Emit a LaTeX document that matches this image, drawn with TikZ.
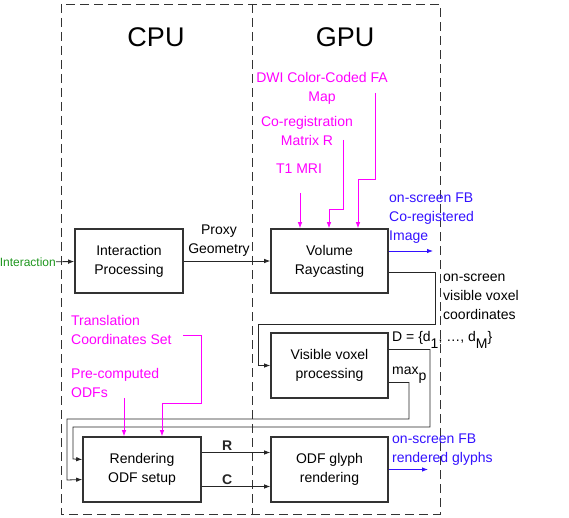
\documentclass[tikz,border=0pt]{standalone}
\usepackage{fontspec}
\setmainfont{Liberation Sans}
\usepackage{xcolor}
\usepackage{tikz}
\usetikzlibrary{arrows.meta}
\usetikzlibrary{calc}
\usetikzlibrary{positioning}

\definecolor{inmag}{RGB}{255,0,255}
\definecolor{outblue}{RGB}{51,17,255}
\definecolor{usrgreen}{RGB}{30,150,30}
\newcommand{\subtx}[1]{\raisebox{-0.45em}{#1}}

\begin{document}
\begin{tikzpicture}[x=1pt, y=-1pt,
    >={Latex[length=6pt,width=4.5pt]},
    every node/.style={font=\fontsize{14}{19}\selectfont},
    stage/.style={draw=black!80, line width=1.6pt, align=center, minimum width=117pt, minimum height=64pt, inner sep=2pt},
    note/.style={align=left, inner sep=0pt},
    lbl/.style={font=\fontsize{14}{19}\selectfont\bfseries, above, inner sep=1.5pt},
    feed/.style={->, inmag, line width=0.8pt},
    outp/.style={->, outblue, line width=0.8pt},
    conn/.style={->, black!85, line width=0.8pt},
    frame/.style={black!80, line width=0.8pt, dash pattern=on 9pt off 5pt}]
    \useasboundingbox (0,0) rectangle (569,518);
    \draw[frame] (61,4) rectangle (440,514);
    \draw[frame] (252,4) -- (252,514);
    \node[font=\fontsize{27}{30}\selectfont] (cpu) at (156,37) {CPU};
    \node[font=\fontsize{27}{30}\selectfont] (gpu) at (345,37) {GPU};
    % stages
    \node[stage, minimum width=108pt] (intr) at (129,261) {Interaction\\Processing};
    \node[stage] (ray) at (329.5,261) {Volume\\Raycasting};
    \node[stage, minimum height=65pt] (vis) at (329.5,365.5) {Visible voxel\\processing};
    \node[stage, minimum width=118pt, minimum height=65pt] (setup) at (142,469.5) {Rendering\\ODF setup};
    \node[stage, minimum height=65pt] (glyph) at (329.5,469.5) {ODF glyph\\rendering};
    % texts
    \node[note, anchor=east, text=usrgreen, font=\fontsize{12}{14}\selectfont] (usr) at (56,262) {Interaction};
    \node[note, align=center] (proxy) at (219,241) {Proxy\\Geometry};
    \node[note, align=center, text=inmag] (dwi) at (322,88.5) {DWI Color-Coded FA\\Map};
    \node[note, align=center, text=inmag] (coreg) at (307,130.5) {Co-registration\\Matrix R};
    \node[note, text=inmag] (t1) at (299,169) {T1 MRI};
    \node[note, anchor=west, text=inmag] (trans) at (71,329.5) {Translation\\Coordinates Set};
    \node[note, anchor=west, text=inmag] (odfs) at (71,382.5) {Pre-computed\\ODFs};
    \node[note, anchor=west, text=outblue] (fbimg) at (389,218) {on-screen FB\\Co-registered\\Image};
    \node[note, anchor=west, text=outblue] (fbgly) at (392,449.5) {on-screen FB\\rendered glyphs};
    \node[note, anchor=west] (vox) at (443,297) {on-screen\\visible voxel\\coordinates};
    \node[note, anchor=west] (dset) at (392,340) {D = \{d\subtx{1}, \dots, d\subtx{M}\}};
    \node[note, anchor=west] (maxp) at (392,375) {max\subtx{p}};
    % free ends
    \coordinate (t1s) at (300,193);
    \coordinate (cos) at (343,140);
    \coordinate (cob) at (329,209);
    \coordinate (dws) at (375,93);
    \coordinate (dwb) at (358,179);
    \coordinate (trs) at (183,335);
    \coordinate (ods) at (124,398);
    \coordinate (fbimgend) at (433,251);
    \coordinate (fbglyend) at (428,469.5);
    % connectors
    \path[conn] (usr) edge (intr);
    \path[conn] (intr) edge (ray);
    \draw[feed] (t1s) -- (t1s |- ray.north);
    \draw[feed] (cos) |- (cob) -- (cob |- ray.north);
    \draw[feed] (dws) |- (dwb) -- (dwb |- ray.north);
    \draw[outp] ([yshift=10pt]ray.east) -- (fbimgend);
    \draw[conn] ([yshift=-11pt]ray.east) -| (435,324) -- (258,324) |- (vis.west);
    \draw[conn] ([yshift=16pt]vis.east) -| (430,427) -| (73,459) -- ([yshift=10pt]setup.west);
    \draw[conn] ([yshift=-17pt]vis.east) -| (409,419) -| (67,480) -- ([yshift=-10pt]setup.west);
    \draw[feed] (trs) -| (201,403) -| ([xshift=20pt]setup.north);
    \draw[feed] (ods) -- (ods |- setup.north);
    \path[conn] ([yshift=17pt]setup.east) edge node[lbl, pos=.37] {R} ([yshift=17pt]glyph.west);
    \path[conn] ([yshift=-17pt]setup.east) edge node[lbl, pos=.37] {C} ([yshift=-17pt]glyph.west);
    \draw[outp] (glyph.east) -- (fbglyend);
\end{tikzpicture}
\end{document}
